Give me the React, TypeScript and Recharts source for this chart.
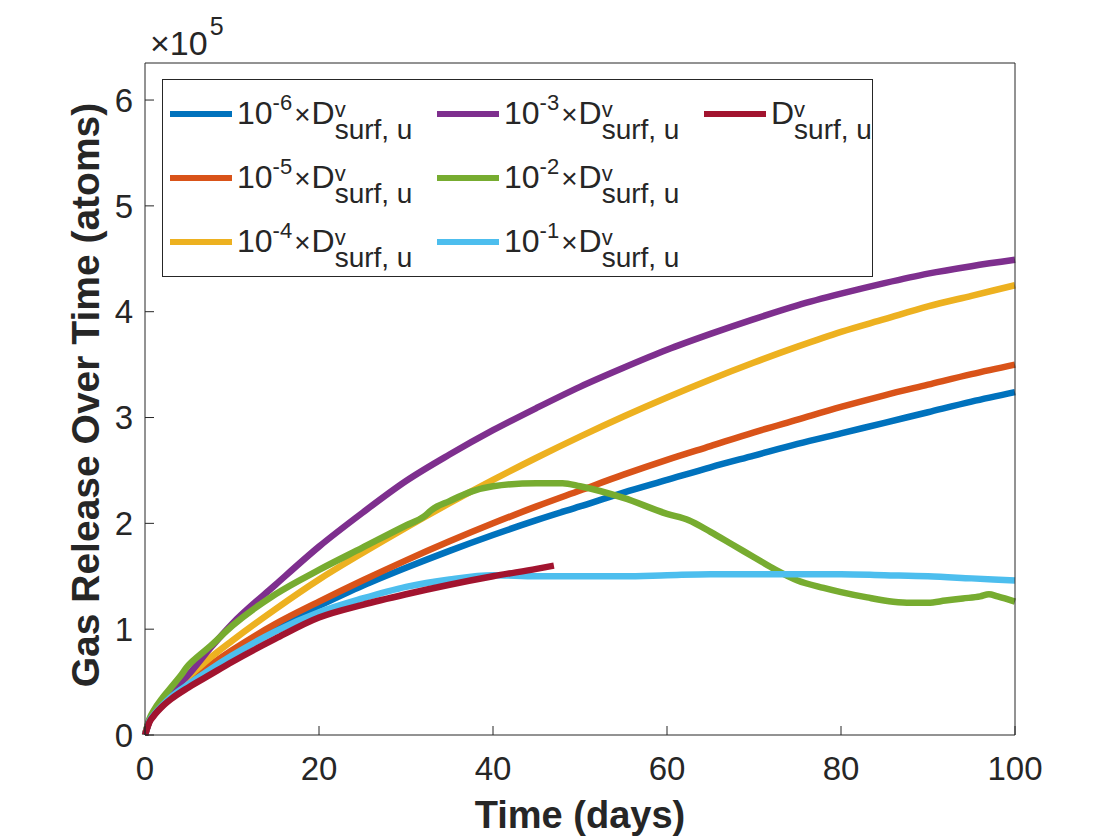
import React from 'react';
import { LineChart, Line, XAxis, YAxis, Legend } from 'recharts';

const FONT = '"Liberation Sans", Arial, Helvetica, sans-serif';
const AXIS = '#262626';

// Time (days) and gas release (units of 1e5 atoms)
const daysMain = [0, 0.5, 1, 2, 3, 5, 7.5, 10, 15, 20, 25, 30, 35, 40, 45, 50, 55, 60, 65, 70, 75, 80, 85, 90, 95, 100];
const gasE6 = [0, 0.13, 0.19, 0.28, 0.36, 0.49, 0.64, 0.78, 1.02, 1.22, 1.41, 1.58, 1.74, 1.89, 2.03, 2.16, 2.29, 2.41, 2.53, 2.64, 2.75, 2.85, 2.95, 3.05, 3.15, 3.24];
const gasE5 = [0, 0.13, 0.19, 0.29, 0.37, 0.5, 0.66, 0.8, 1.05, 1.26, 1.46, 1.65, 1.83, 2.0, 2.16, 2.31, 2.46, 2.6, 2.73, 2.86, 2.98, 3.1, 3.21, 3.31, 3.41, 3.5];
const gasE4 = [0, 0.14, 0.21, 0.31, 0.4, 0.55, 0.73, 0.89, 1.19, 1.47, 1.72, 1.96, 2.19, 2.41, 2.62, 2.82, 3.01, 3.19, 3.36, 3.52, 3.67, 3.81, 3.93, 4.05, 4.15, 4.25];
const gasE3 = [0, 0.13, 0.2, 0.3, 0.4, 0.57, 0.82, 1.05, 1.42, 1.78, 2.1, 2.4, 2.65, 2.88, 3.09, 3.29, 3.47, 3.64, 3.79, 3.93, 4.06, 4.17, 4.27, 4.36, 4.43, 4.49];
const gasE1 = [0, 0.13, 0.19, 0.28, 0.36, 0.48, 0.62, 0.75, 0.98, 1.16, 1.29, 1.4, 1.47, 1.51, 1.5, 1.5, 1.5, 1.51, 1.52, 1.52, 1.52, 1.52, 1.51, 1.5, 1.48, 1.46];

const daysE2 = [0, 0.5, 1, 2, 3, 4, 5, 5.5, 7.5, 10, 15, 20, 25, 30, 32, 33, 35, 37.5, 40, 45, 48, 50, 55, 60, 62.5, 65, 67.5, 70, 72.5, 75, 78, 80, 83, 86, 88, 90, 92, 94, 96, 97, 98, 100];
const gasE2 = [0, 0.15, 0.23, 0.35, 0.45, 0.55, 0.66, 0.7, 0.84, 1.03, 1.33, 1.56, 1.77, 1.98, 2.06, 2.13, 2.21, 2.3, 2.35, 2.38, 2.38, 2.35, 2.24, 2.09, 2.03, 1.92, 1.8, 1.68, 1.56, 1.46, 1.39, 1.35, 1.3, 1.26, 1.25, 1.25, 1.27, 1.29, 1.31, 1.33, 1.31, 1.26];

const daysD = [0, 0.5, 1, 2, 3, 5, 7.5, 10, 15, 20, 25, 30, 35, 40, 45, 47];
const gasD = [0, 0.12, 0.18, 0.27, 0.34, 0.45, 0.57, 0.69, 0.91, 1.11, 1.23, 1.33, 1.42, 1.5, 1.57, 1.6];

const seriesNames = ['s1', 's2', 's3', 's4', 's5', 's6', 's7'];
const seriesExponents = ['-6', '-5', '-4', '-3', '-2', '-1', ''];
const seriesColors = ['#0072BD', '#D95319', '#EDB120', '#7E2F8E', '#77AC30', '#4DBEEE', '#A2142F'];
const seriesDays = [daysMain, daysMain, daysMain, daysMain, daysE2, daysMain, daysD];
const seriesGas = [gasE6, gasE5, gasE4, gasE3, gasE2, gasE1, gasD];

const xTicks = [0, 20, 40, 60, 80, 100];
const yTicks = [0, 1, 2, 3, 4, 5, 6];

const toPoints = (xs: number[], ys: number[]) => xs.map((x, i) => ({ x, y: ys[i] }));

const tickStyle = { fontSize: 33, fill: AXIS, fontFamily: FONT };

function LegendBox(props: any) {
  const items = [...(props.payload || [])].sort(
    (a: any, b: any) => seriesNames.indexOf(a.value) - seriesNames.indexOf(b.value)
  );
  return (
    <svg width={711} height={198} style={{ display: 'block' }}>
      <rect x={0.5} y={0.5} width={710} height={197} fill="#ffffff" stroke={AXIS} strokeWidth={1} />
      {items.map((it: any, i: number) => {
        const idx = seriesNames.indexOf(it.value);
        const col = Math.floor(i / 3);
        const row = i % 3;
        const x0 = 8 + col * 267;
        const yc = 35 + row * 64;
        const exp = seriesExponents[idx];
        return (
          <g key={it.value}>
            <line x1={x0} x2={x0 + 62} y1={yc} y2={yc} stroke={seriesColors[idx]} strokeWidth={6} />
            <text x={x0 + 67} y={yc + 10} fill={AXIS} fontFamily={FONT} fontSize={32}>
              {exp ? (
                <>
                  <tspan>10</tspan>
                  <tspan fontSize={22} dy={-14}>{exp}</tspan>
                  <tspan fontSize={28} fontWeight={300} dx={2} dy={14}>×</tspan>
                  <tspan fontSize={32} dx={1}>D</tspan>
                </>
              ) : (
                <tspan fontSize={32}>D</tspan>
              )}
              <tspan fontSize={22} dy={-7}>v</tspan>
              <tspan fontSize={28} dx={-11} dy={22}>surf, u</tspan>
            </text>
          </g>
        );
      })}
    </svg>
  );
}

function ExponentLabel(props: any) {
  const vb = props.viewBox || { x: 145, y: 62, width: 870, height: 1 };
  const bx = vb.x + 5;
  const by = vb.y + vb.height - 8;
  return (
    <text x={bx} y={by} fill={AXIS} fontFamily={FONT} fontSize={34}>
      <tspan>×10</tspan>
      <tspan fontSize={25} dx={2} dy={-20}>5</tspan>
    </text>
  );
}

function XTitle(props: any) {
  const vb = props.viewBox;
  return (
    <text x={vb.x + vb.width / 2} y={vb.y + 93} textAnchor="middle" fill={AXIS} fontFamily={FONT} fontSize={38} fontWeight="bold">
      Time (days)
    </text>
  );
}

function YTitle(props: any) {
  const vb = props.viewBox;
  const cx = 99;
  const cy = vb.y + vb.height / 2 - 4;
  return (
    <text x={cx} y={cy} transform={`rotate(-90 ${cx} ${cy})`} textAnchor="middle" fill={AXIS} fontFamily={FONT} fontSize={39} fontWeight="bold">
      Gas Release Over Time (atoms)
    </text>
  );
}

export default function App() {
  return (
    <div style={{ position: 'absolute', left: 0, top: 0, width: 1120, height: 840, fontFamily: FONT, background: '#ffffff' }}>
      <LineChart width={1120} height={840} margin={{ top: 62, right: 104, bottom: 0, left: 0 }}>
        <XAxis
          xAxisId="bottom"
          dataKey="x"
          type="number"
          domain={[0, 100]}
          ticks={xTicks}
          interval={0}
          height={105}
          tickSize={-9}
          tickMargin={31}
          tick={tickStyle}
          stroke={AXIS}
          axisLine={{ stroke: AXIS, strokeWidth: 1 }}
          tickLine={{ stroke: AXIS, strokeWidth: 1 }}
          label={{ content: XTitle }}
        />
        <XAxis
          xAxisId="top"
          orientation="top"
          dataKey="x"
          type="number"
          domain={[0, 100]}
          ticks={xTicks}
          interval={0}
          height={1}
          tickSize={-9}
          tick={false}
          stroke={AXIS}
          axisLine={{ stroke: AXIS, strokeWidth: 1 }}
          tickLine={{ stroke: AXIS, strokeWidth: 1 }}
          label={{ content: ExponentLabel }}
        />
        <YAxis
          yAxisId="left"
          type="number"
          domain={[0, 6.35]}
          ticks={yTicks}
          interval={0}
          width={145}
          tickSize={-9}
          tickMargin={21}
          tick={tickStyle}
          stroke={AXIS}
          axisLine={{ stroke: AXIS, strokeWidth: 1 }}
          tickLine={{ stroke: AXIS, strokeWidth: 1 }}
          label={{ content: YTitle }}
        />
        <YAxis
          yAxisId="right"
          orientation="right"
          type="number"
          domain={[0, 6.35]}
          ticks={yTicks}
          interval={0}
          width={1}
          tickSize={-9}
          tick={false}
          stroke={AXIS}
          axisLine={{ stroke: AXIS, strokeWidth: 1 }}
          tickLine={{ stroke: AXIS, strokeWidth: 1 }}
        />
        {seriesNames.map((name, i) => (
          <Line
            key={name}
            name={name}
            xAxisId="bottom"
            yAxisId="left"
            data={toPoints(seriesDays[i], seriesGas[i])}
            dataKey="y"
            type="monotone"
            stroke={seriesColors[i]}
            strokeWidth={6.5}
            strokeLinejoin="round"
            dot={false}
            activeDot={false}
            isAnimationActive={false}
          />
        ))}
        <Legend
          layout="vertical"
          align="center"
          verticalAlign="middle"
          content={LegendBox}
          wrapperStyle={{ position: 'absolute', left: 162, top: 79, width: 711, height: 198 }}
        />
      </LineChart>
    </div>
  );
}
